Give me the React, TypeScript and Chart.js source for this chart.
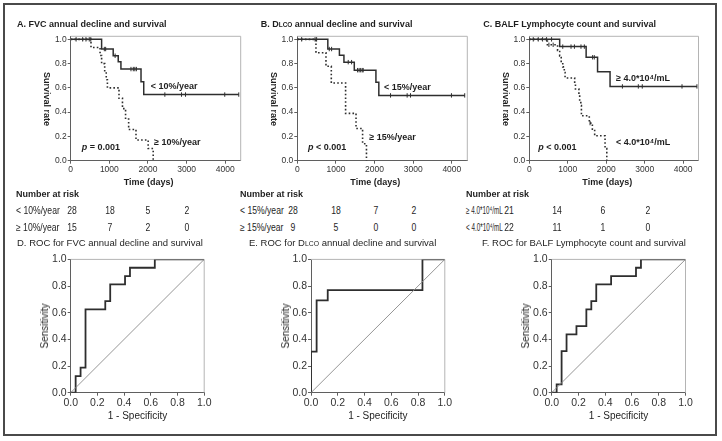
import React, { useEffect, useRef } from "react";
import { Chart, registerables } from "chart.js";

Chart.register(...registerables);

const SANS = "'Liberation Sans', Arial, Helvetica, sans-serif";
const INK = "#2e2e2e";
const AXIS = "#5f5f5f";
const FRAME = "#b4b4b4";
const TEXT = "#1e1e1e";

// ---------------- Kaplan–Meier: shared axes ----------------
const kmXTicks = [0, 1000, 2000, 3000, 4000];
const kmYTicks = [0, 0.2, 0.4, 0.6, 0.8, 1.0];
const kmXMax = 4400;
const kmYMax = 1.025;

// A. FVC annual decline
const fvcLowTime = [0, 800, 1100, 1230, 1300, 1820, 1890, 4350];
const fvcLowSurv = [1, 0.92, 0.865, 0.815, 0.755, 0.65, 0.545, 0.545];
const fvcLowCensor = [140, 310, 395, 480, 520, 870, 905, 1150, 1560, 1620, 1660, 1700, 2437, 2868, 2972, 3987, 4350];
const fvcHighTime = [0, 525, 760, 800, 880, 920, 950, 1250, 1340, 1420, 1500, 1690, 2005, 2135];
const fvcHighSurv = [1, 0.933, 0.867, 0.8, 0.733, 0.667, 0.6, 0.514, 0.429, 0.343, 0.257, 0.171, 0.1, 0];
const fvcHighCensor: number[] = [];

// B. DLCO annual decline
const dlcoLowTime = [0, 790, 1090, 1207, 1475, 2035, 2110, 4333];
const dlcoLowSurv = [1, 0.92, 0.868, 0.812, 0.746, 0.647, 0.538, 0.538];
const dlcoLowCensor = [113, 460, 500, 827, 888, 1318, 1405, 1560, 1600, 1640, 1680, 1705, 2413, 2843, 2930, 3990, 4333];
const dlcoHighTime = [0, 483, 742, 880, 1250, 1520, 1690, 1790];
const dlcoHighSurv = [1, 0.889, 0.778, 0.64, 0.39, 0.265, 0.14, 0];
const dlcoHighCensor: number[] = [];

// C. BALF lymphocyte count
const lymHighTime = [0, 790, 1478, 1775, 2100, 4360];
const lymHighSurv = [1, 0.94, 0.852, 0.732, 0.612, 0.612];
const lymHighCensor = [103, 233, 346, 449, 579, 870, 1085, 1173, 1344, 1431, 1646, 1690, 2421, 2835, 2938, 3971, 4359];
const lymLowTime = [0, 470, 735, 790, 830, 870, 910, 930, 1180, 1200, 1290, 1310, 1340, 1355, 1560, 1640, 1700, 1970, 2015];
const lymLowSurv = [1, 0.955, 0.909, 0.864, 0.818, 0.773, 0.727, 0.682, 0.636, 0.591, 0.545, 0.5, 0.455, 0.37, 0.31, 0.26, 0.205, 0.1, 0];
const lymLowCensor = [510, 620, 1580];

// Number at risk
const fvcRiskLow = [28, 18, 5, 2];
const fvcRiskHigh = [15, 7, 2, 0];
const dlcoRiskLow = [28, 18, 7, 2];
const dlcoRiskHigh = [9, 5, 0, 0];
const lymRiskHigh = [21, 14, 6, 2];
const lymRiskLow = [22, 11, 1, 0];

// ---------------- ROC ----------------
const rocTicks = [0, 0.2, 0.4, 0.6, 0.8, 1.0];
const diagonal = [0, 1];

const fvcRocFpr = [0, 0.037, 0.037, 0.074, 0.074, 0.111, 0.111, 0.259, 0.259, 0.296, 0.296, 0.407, 0.407, 0.444, 0.444, 0.63, 0.63, 1];
const fvcRocTpr = [0, 0, 0.125, 0.125, 0.1875, 0.1875, 0.625, 0.625, 0.6875, 0.6875, 0.8125, 0.8125, 0.875, 0.875, 0.9375, 0.9375, 1, 1];

const dlcoRocFpr = [0, 0, 0.042, 0.042, 0.125, 0.125, 0.833, 0.833, 1];
const dlcoRocTpr = [0, 0.308, 0.308, 0.692, 0.692, 0.769, 0.769, 1, 1];

const lymRocFpr = [0, 0.037, 0.037, 0.074, 0.074, 0.111, 0.111, 0.185, 0.185, 0.259, 0.259, 0.296, 0.296, 0.333, 0.333, 0.444, 0.444, 0.63, 0.63, 0.667, 0.667, 1];
const lymRocTpr = [0, 0, 0.0625, 0.0625, 0.3125, 0.3125, 0.4375, 0.4375, 0.5, 0.5, 0.625, 0.625, 0.6875, 0.6875, 0.8125, 0.8125, 0.875, 0.875, 0.9375, 0.9375, 1, 1];

// ---------------- helpers ----------------
type Box = { cl: number; ct: number; cw: number; ch: number; al: number; ar: number; at: number; ab: number; xh: number };

const kmBoxA: Box = { cl: 28, ct: 22, cw: 222, ch: 168, al: 70.7, ar: 240.7, at: 36.3, ab: 160.7, xh: 24 };
const kmBoxB: Box = { cl: 255, ct: 22, cw: 222, ch: 168, al: 297.3, ar: 467.3, at: 36.3, ab: 160.7, xh: 24 };
const kmBoxC: Box = { cl: 487, ct: 22, cw: 221, ch: 168, al: 529.3, ar: 698.5, at: 36.3, ab: 160.7, xh: 24 };
const rocBoxD: Box = { cl: 28, ct: 248, cw: 188, ch: 164, al: 70.7, ar: 204.2, at: 259.4, ab: 392.7, xh: 18 };
const rocBoxE: Box = { cl: 268, ct: 248, cw: 189, ch: 164, al: 311, ar: 444.8, at: 259.4, ab: 392.7, xh: 18 };
const rocBoxF: Box = { cl: 509, ct: 248, cw: 189, ch: 164, al: 551.7, ar: 685.5, at: 259.4, ab: 392.7, xh: 18 };

function survAt(time: number[], surv: number[], t: number) {
  let s = surv[0];
  for (let i = 0; i < time.length; i++) if (time[i] <= t) s = surv[i];
  return s;
}

const framePlugin = {
  id: "frame",
  beforeDatasetsDraw(chart: any) {
    const { ctx, chartArea: a } = chart;
    ctx.save();
    ctx.strokeStyle = FRAME;
    ctx.lineWidth = 1;
    ctx.beginPath();
    ctx.moveTo(a.left, a.top);
    ctx.lineTo(a.right, a.top);
    ctx.lineTo(a.right, a.bottom);
    ctx.stroke();
    ctx.restore();
  },
};

function axis(min: number, max: number, ticks: number[], fmt: (v: number) => string, fontSize: number, size: number, horizontal: boolean) {
  return {
    type: "linear",
    min,
    max,
    afterBuildTicks: (s: any) => {
      s.ticks = ticks.map((v) => ({ value: v }));
    },
    afterFit: (s: any) => {
      if (horizontal) s.height = size;
      else s.width = size;
    },
    grid: { drawOnChartArea: false, drawTicks: true, tickLength: 3, color: AXIS, lineWidth: 1 },
    border: { display: true, color: AXIS, width: 1 },
    ticks: {
      font: { family: SANS, size: fontSize },
      color: "#333",
      padding: 1,
      maxRotation: 0,
      autoSkip: false,
      callback: (v: any) => fmt(Number(v)),
    },
  };
}

function baseOptions(b: Box, scales: any) {
  return {
    animation: false,
    responsive: false,
    maintainAspectRatio: false,
    events: [],
    layout: {
      padding: { left: 0, top: b.at - b.ct, right: b.cl + b.cw - b.ar, bottom: b.ct + b.ch - b.xh - b.ab },
    },
    plugins: { legend: { display: false }, tooltip: { enabled: false }, title: { display: false } },
    scales,
  };
}

type KMGroup = { time: number[]; surv: number[]; censor: number[]; dotted: boolean };

function kmConfig(groups: KMGroup[], b: Box) {
  const datasets: any[] = [];
  groups.forEach((g) => {
    datasets.push({
      type: "line",
      data: g.time.map((t, i) => ({ x: t, y: g.surv[i] })),
      stepped: "before",
      borderColor: INK,
      borderWidth: g.dotted ? 1.6 : 1.5,
      borderDash: g.dotted ? [1.6, 2.2] : [],
      pointRadius: 0,
      fill: false,
    });
    if (g.censor.length) {
      datasets.push({
        type: "scatter",
        data: g.censor.map((t) => ({ x: t, y: survAt(g.time, g.surv, t) })),
        pointStyle: "line",
        pointRotation: 90,
        pointRadius: 2.2,
        pointBorderColor: INK,
        pointBorderWidth: 1,
        showLine: false,
      });
    }
  });
  return {
    type: "line",
    data: { datasets },
    options: baseOptions(b, {
      x: axis(0, kmXMax, kmXTicks, (v) => String(v), 8.5, b.xh, true),
      y: axis(0, kmYMax, kmYTicks, (v) => v.toFixed(1), 8.5, b.al - b.cl, false),
    }),
    plugins: [framePlugin],
  };
}

function rocConfig(fpr: number[], tpr: number[], b: Box) {
  return {
    type: "line",
    data: {
      datasets: [
        {
          data: diagonal.map((v) => ({ x: v, y: v })),
          borderColor: "#8a8a8a",
          borderWidth: 0.9,
          pointRadius: 0,
          fill: false,
        },
        {
          data: fpr.map((x, i) => ({ x, y: tpr[i] })),
          borderColor: INK,
          borderWidth: 1.8,
          pointRadius: 0,
          fill: false,
        },
      ],
    },
    options: baseOptions(b, {
      x: axis(0, 1, rocTicks, (v) => v.toFixed(1), 10.5, b.xh, true),
      y: axis(0, 1, rocTicks, (v) => v.toFixed(1), 10.5, b.al - b.cl, false),
    }),
    plugins: [framePlugin],
  };
}

function ChartCanvas({ box, build }: { box: Box; build: () => any }) {
  const ref = useRef<HTMLCanvasElement | null>(null);
  useEffect(() => {
    if (!ref.current) return;
    const chart = new Chart(ref.current, build());
    return () => chart.destroy();
  }, []);
  return (
    <canvas
      ref={ref}
      width={box.cw}
      height={box.ch}
      style={{ position: "absolute", left: box.cl, top: box.ct, width: box.cw, height: box.ch }}
    />
  );
}

function T(p: { x: number; y: number; f: string; align?: "left" | "center"; rot?: number; sx?: number; children: React.ReactNode }) {
  const tx = p.align === "center" ? "-50%" : "0";
  const extra = (p.rot ? ` rotate(${p.rot}deg)` : "") + (p.sx ? ` scaleX(${p.sx})` : "");
  return (
    <div
      style={{
        position: "absolute",
        left: p.x,
        top: p.y,
        font: p.f,
        color: TEXT,
        whiteSpace: "nowrap",
        lineHeight: 1,
        transformOrigin: p.align === "center" ? "center center" : "left center",
        transform: `translate(${tx},-50%)${extra}`,
      }}
    >
      {p.children}
    </div>
  );
}

const B9 = `bold 9px ${SANS}`;
const R95 = `9.5px ${SANS}`;
const R10 = `10px ${SANS}`;
const TBL = `10.5px ${SANS}`;
const small = { fontSize: "0.72em" };

function RiskTable(p: {
  x: number;
  labels: [string, string];
  rows: [number[], number[]];
  cols: number[];
  labelFont: string;
  labelScale: number;
}) {
  const ys = [210, 227];
  return (
    <>
      <T x={p.x} y={193.5} f={B9}>Number at risk</T>
      {ys.map((y, r) => (
        <React.Fragment key={r}>
          <T x={p.x} y={y} f={p.labelFont} sx={p.labelScale}>{p.labels[r]}</T>
          {p.rows[r].map((n, i) => (
            <T key={i} x={p.cols[i]} y={y} f={TBL} align="center" sx={0.82}>{n}</T>
          ))}
        </React.Fragment>
      ))}
    </>
  );
}

export default function App() {
  const kmBoxes = [kmBoxA, kmBoxB, kmBoxC];
  const rocBoxes = [rocBoxD, rocBoxE, rocBoxF];
  return (
    <div style={{ position: "fixed", left: 0, top: 0, width: 722, height: 441, background: "#fff", overflow: "hidden" }}>
      <div style={{ position: "absolute", left: 3, top: 3, width: 714, height: 433, border: "2px solid #4a4a4a", boxSizing: "border-box" }} />

      <ChartCanvas
        box={kmBoxA}
        build={() =>
          kmConfig(
            [
              { time: fvcLowTime, surv: fvcLowSurv, censor: fvcLowCensor, dotted: false },
              { time: fvcHighTime, surv: fvcHighSurv, censor: fvcHighCensor, dotted: true },
            ],
            kmBoxA
          )
        }
      />
      <ChartCanvas
        box={kmBoxB}
        build={() =>
          kmConfig(
            [
              { time: dlcoLowTime, surv: dlcoLowSurv, censor: dlcoLowCensor, dotted: false },
              { time: dlcoHighTime, surv: dlcoHighSurv, censor: dlcoHighCensor, dotted: true },
            ],
            kmBoxB
          )
        }
      />
      <ChartCanvas
        box={kmBoxC}
        build={() =>
          kmConfig(
            [
              { time: lymHighTime, surv: lymHighSurv, censor: lymHighCensor, dotted: false },
              { time: lymLowTime, surv: lymLowSurv, censor: lymLowCensor, dotted: true },
            ],
            kmBoxC
          )
        }
      />
      <ChartCanvas box={rocBoxD} build={() => rocConfig(fvcRocFpr, fvcRocTpr, rocBoxD)} />
      <ChartCanvas box={rocBoxE} build={() => rocConfig(dlcoRocFpr, dlcoRocTpr, rocBoxE)} />
      <ChartCanvas box={rocBoxF} build={() => rocConfig(lymRocFpr, lymRocTpr, rocBoxF)} />

      {/* KM panel titles */}
      <T x={17} y={24} f={B9}>A. FVC annual decline and survival</T>
      <T x={260.7} y={24} f={B9}>
        B. D<span style={small}>LCO</span> annual decline and survival
      </T>
      <T x={483.3} y={24} f={B9}>C. BALF Lymphocyte count and survival</T>

      {/* KM axis titles */}
      {kmBoxes.map((b, i) => (
        <React.Fragment key={i}>
          <T x={b.al - 24.5} y={99} f={B9} align="center" rot={90}>Survival rate</T>
          <T x={b.al + 78} y={181.7} f={B9} align="center">Time (days)</T>
        </React.Fragment>
      ))}

      {/* KM annotations */}
      <T x={150.7} y={86} f={B9}>&lt; 10%/year</T>
      <T x={154} y={141.7} f={B9}>≥ 10%/year</T>
      <T x={81.7} y={146.7} f={B9}><i>p</i> = 0.001</T>
      <T x={384} y={87.3} f={B9}>&lt; 15%/year</T>
      <T x={369.3} y={136.7} f={B9}>≥ 15%/year</T>
      <T x={308} y={147.3} f={B9}><i>p</i> &lt; 0.001</T>
      <T x={616} y={77.7} f={B9}>≥ 4.0*10⁴/mL</T>
      <T x={616} y={141.7} f={B9}>&lt; 4.0*10⁴/mL</T>
      <T x={538.3} y={146.7} f={B9}><i>p</i> &lt; 0.001</T>

      {/* Number at risk */}
      <RiskTable x={16} labels={["< 10%/year", "≥ 10%/year"]} rows={[fvcRiskLow, fvcRiskHigh]} cols={[72, 110, 148, 187]} labelFont={TBL} labelScale={0.82} />
      <RiskTable x={240} labels={["< 15%/year", "≥ 15%/year"]} rows={[dlcoRiskLow, dlcoRiskHigh]} cols={[293, 336, 376, 414]} labelFont={TBL} labelScale={0.82} />
      <RiskTable x={466} labels={["≥ 4.0*10⁴/mL", "< 4.0*10⁴/mL"]} rows={[lymRiskHigh, lymRiskLow]} cols={[509, 557, 603, 648]} labelFont={TBL} labelScale={0.6} />

      {/* ROC titles */}
      <T x={17} y={243} f={R95}>D. ROC for FVC annual decline and survival</T>
      <T x={249} y={243} f={R95}>
        E. ROC for D<span style={small}>LCO</span> annual decline and survival
      </T>
      <T x={482} y={243} f={R95}>F. ROC for BALF Lymphocyte count and survival</T>

      {rocBoxes.map((b, i) => (
        <React.Fragment key={i}>
          <T x={b.al - 25.5} y={(b.at + b.ab) / 2} f={R10} align="center" rot={-90}>Sensitivity</T>
          <T x={(b.al + b.ar) / 2} y={416} f={R10} align="center">1 - Specificity</T>
        </React.Fragment>
      ))}
    </div>
  );
}
